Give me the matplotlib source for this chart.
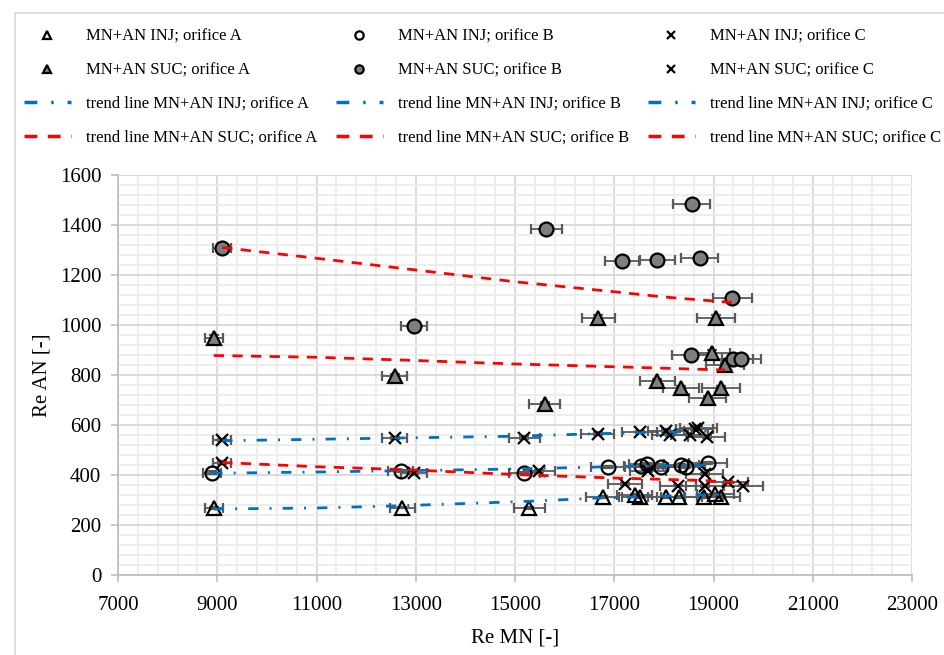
import numpy as np
import matplotlib.pyplot as plt
from matplotlib.ticker import MultipleLocator
from matplotlib.lines import Line2D
from matplotlib.patches import Rectangle

plt.rcParams['font.family'] = ['Liberation Serif', 'DejaVu Serif']

# measured points (Re MN, Re AN)
inj_a_x = [8930, 12730, 15290, 16770, 17410, 17510, 18050, 18300, 18810, 19040, 19150]
inj_a_y = [268, 270, 268, 313, 322, 313, 313, 311, 311, 325, 311]
inj_b_x = [8900, 12700, 15190, 16870, 17540, 17650, 17950, 18350, 18450, 18890]
inj_b_y = [410, 415, 408, 433, 436, 445, 431, 440, 431, 449]
inj_c_x = [9100, 12580, 15190, 16670, 17510, 18050, 18120, 18520, 18620, 18690, 18860]
inj_c_y = [540, 548, 550, 565, 572, 577, 560, 560, 585, 590, 553]

suc_a_x = [8930, 12580, 15600, 16680, 17870, 18350, 18880, 18960, 19050, 19150, 19230]
suc_a_y = [950, 795, 685, 1030, 775, 750, 710, 890, 1030, 750, 840]
suc_b_x = [9100, 12970, 15630, 17150, 17870, 18560, 18720, 19380, 18540, 19400, 19560]
suc_b_y = [1310, 995, 1385, 1255, 1260, 1485, 1270, 1110, 880, 865, 865]
suc_c_x = [9100, 12970, 15490, 17210, 17680, 18290, 18820, 18820, 19300, 19600]
suc_c_y = [450, 410, 415, 365, 415, 358, 355, 405, 372, 358]

# trend lines
tr_inj_a_x = [8930, 11000, 12700, 15300, 16700, 19150]
tr_inj_a_y = [264, 268, 277, 295, 308, 322]
tr_inj_b_x = [8900, 11000, 13000, 15000, 16700, 18900]
tr_inj_b_y = [407, 412, 418, 424, 432, 440]
tr_inj_c_x = [9100, 12300, 15000, 16600, 18860]
tr_inj_c_y = [537, 547, 555, 565, 575]
tr_suc_a_x = [8930, 11000, 12700, 15000, 17000, 19230]
tr_suc_a_y = [878, 871, 860, 844, 833, 820]
tr_suc_b_x = [9100, 11000, 12700, 15000, 17000, 18000, 19380]
tr_suc_b_y = [1310, 1267, 1227, 1173, 1133, 1112, 1090]
tr_suc_c_x = [9100, 11000, 12700, 15250, 17000, 18800, 19600]
tr_suc_c_y = [450, 433, 422, 400, 388, 378, 367]

x_err_frac = 0.02   # relative error on Re MN
y_err_frac = 0.01   # relative error on Re AN

GRAY = '#7F7F7F'
BLUE = '#0070C0'
RED = '#FF0000'
DASH_RED = (3.7, 3.0)
DASH_BLUE = (3.7, 4.0, 0.7, 4.0)

fig = plt.figure(figsize=(9.45, 6.55), dpi=100)
W, H = 945, 655
ax = fig.add_axes([118 / W, 80 / H, (912 - 118) / W, 400 / H])

# outer chart border
fig.patches.append(Rectangle((15 / W, -0.1), 1.2, 1 - 13 / H + 0.1, transform=fig.transFigure,
                             fill=False, edgecolor='#D9D9D9', lw=1.2))

series = [
    (inj_a_x, inj_a_y, '^', 'none', 9.5),
    (inj_b_x, inj_b_y, 'o', 'none', 10),
    (inj_c_x, inj_c_y, 'x', 'k', 9),
    (suc_a_x, suc_a_y, '^', GRAY, 9.5),
    (suc_b_x, suc_b_y, 'o', GRAY, 10),
    (suc_c_x, suc_c_y, 'x', 'k', 9),
]
for xs, ys, m, fc, ms in series:
    xs = np.array(xs, float)
    ys = np.array(ys, float)
    ax.errorbar(xs, ys, xerr=xs * x_err_frac, yerr=ys * y_err_frac, fmt=m, ms=ms,
                mfc=fc, mec='k', mew=1.6, ecolor='#595959', elinewidth=1.3,
                capsize=3.3, capthick=1.3, zorder=3)

trends = [
    (tr_inj_a_x, tr_inj_a_y, BLUE, DASH_BLUE),
    (tr_inj_b_x, tr_inj_b_y, BLUE, DASH_BLUE),
    (tr_inj_c_x, tr_inj_c_y, BLUE, DASH_BLUE),
    (tr_suc_a_x, tr_suc_a_y, RED, DASH_RED),
    (tr_suc_b_x, tr_suc_b_y, RED, DASH_RED),
    (tr_suc_c_x, tr_suc_c_y, RED, DASH_RED),
]
for xs, ys, c, d in trends:
    ax.plot(xs, ys, color=c, lw=2.0, dashes=d, dash_capstyle='butt', zorder=4)

ax.set_xlim(7000, 23000)
ax.set_ylim(0, 1600)
ax.xaxis.set_major_locator(MultipleLocator(2000, offset=1000))
ax.xaxis.set_minor_locator(MultipleLocator(400, offset=200))
ax.yaxis.set_major_locator(MultipleLocator(200))
ax.yaxis.set_minor_locator(MultipleLocator(40))
ax.grid(which='minor', color='#ECECEC', lw=1.3, zorder=0)
ax.grid(which='major', color='#D9D9D9', lw=1.3, zorder=1)
ax.set_axisbelow(True)
for s in ['top', 'right']:
    ax.spines[s].set_visible(False)
for s in ['left', 'bottom']:
    ax.spines[s].set_color('#BFBFBF')
    ax.spines[s].set_linewidth(1.3)
ax.tick_params(which='major', length=5, width=1.2, color='#BFBFBF', labelsize=15,
               labelcolor='#000000', pad=7)
ax.tick_params(axis='x', which='major', pad=10)
ax.tick_params(which='minor', length=0)
ax.set_xlabel('Re MN [-]', fontsize=15, labelpad=10)
ax.set_ylabel('Re AN [-]', fontsize=15, labelpad=6)

# legend: three columns, one per orifice
def pt_handle(m, fc):
    return Line2D([], [], ls='none', marker=m, ms=6, mfc=fc, mec='k', mew=1.6)

def ln_handle(c, d):
    return Line2D([], [], color=c, lw=2.5, dashes=d, dash_capstyle='butt')

col_x = [24, 336, 648]
for i, orif in enumerate(['A', 'B', 'C']):
    m = ['^', 'o', 'x'][i]
    hs = [pt_handle(m, 'none' if m != 'x' else 'k'),
          pt_handle(m, GRAY if m != 'x' else 'k'),
          ln_handle(BLUE, DASH_BLUE), ln_handle(RED, DASH_RED)]
    ls = [f"MN+AN INJ; orifice {orif}", f"MN+AN SUC; orifice {orif}",
          f"trend line MN+AN INJ; orifice {orif}", f"trend line MN+AN SUC; orifice {orif}"]
    fig.legend(hs, ls, loc='upper left', bbox_to_anchor=(col_x[i] / W, 1 - 29 / H),
               frameon=False, fontsize=12, handlelength=2.8, handletextpad=0.9,
               labelspacing=1.05, borderpad=0, borderaxespad=0)

fig.savefig('out.png', dpi=100)
